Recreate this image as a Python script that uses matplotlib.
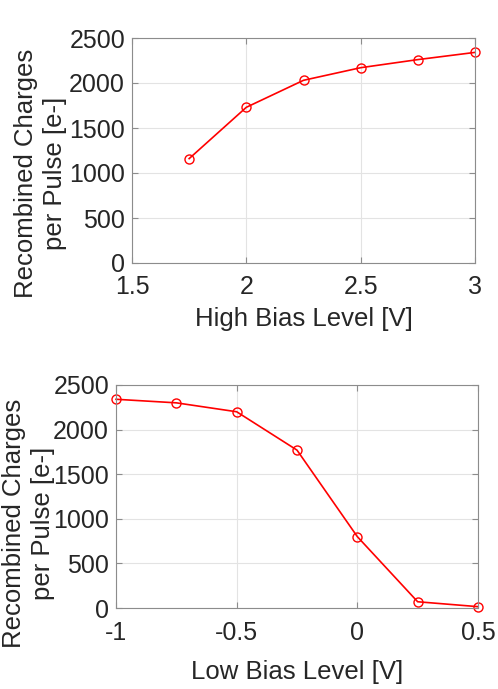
import matplotlib.pyplot as plt

plt.rcParams['font.family'] = ['Liberation Sans', 'DejaVu Sans']

# data
high_bias = [1.75, 2.0, 2.25, 2.5, 2.75, 3.0]
high_charges = [1160, 1730, 2030, 2170, 2260, 2340]

low_bias = [-1.0, -0.75, -0.5, -0.25, 0.0, 0.25, 0.5]
low_charges = [2340, 2300, 2200, 1770, 800, 70, 15]

ylab = 'Recombined Charges\nper Pulse [e-]'
W, H = 498, 689
txt = '#262626'

fig = plt.figure(figsize=(W / 100, H / 100), dpi=100)


def add_ax(l, t, r, b):
    return fig.add_axes([l / W, 1 - b / H, (r - l) / W, (b - t) / H])


def style(ax):
    ax.grid(True, color='#e3e3e3', linewidth=0.8)
    ax.set_axisbelow(True)
    for s in ax.spines.values():
        s.set_color('#8c8c8c')
        s.set_linewidth(0.8)
    ax.tick_params(direction='in', length=4, width=0.8, color='#8c8c8c',
                   labelcolor=txt, labelsize=18, top=True, right=True)
    ax.tick_params(axis='y', pad=5)
    ax.tick_params(axis='x', pad=9)
    ax.set_yticks([0, 500, 1000, 1500, 2000, 2500])
    ax.set_ylim(0, 2500)


ax1 = add_ax(132, 38, 475, 263)
ax1.plot(high_bias, high_charges, color='red', marker='o', markersize=6.5,
         markerfacecolor='none', linewidth=1.2, clip_on=False)
style(ax1)
ax1.set_xlim(1.5, 3)
ax1.set_xticks([1.5, 2, 2.5, 3])
ax1.set_xticklabels(['1.5', '2', '2.5', '3'])
ax1.set_xlabel('High Bias Level [V]', fontsize=18.5, color=txt, va='top')
ax1.xaxis.set_label_coords(0.5, -0.195)
ax1.set_ylabel(ylab, fontsize=18.5, color=txt, linespacing=1.25)
ax1.yaxis.set_label_coords(-0.19, 0.40)

ax2 = add_ax(116, 385, 478, 608)
ax2.plot(low_bias, low_charges, color='red', marker='o', markersize=6.5,
         markerfacecolor='none', linewidth=1.2, clip_on=False)
style(ax2)
ax2.set_xlim(-1, 0.5)
ax2.set_xticks([-1, -0.5, 0, 0.5])
ax2.set_xticklabels(['-1', '-0.5', '0', '0.5'])
ax2.set_xlabel('Low Bias Level [V]', fontsize=18.5, color=txt, va='top')
ax2.xaxis.set_label_coords(0.5, -0.235)
ax2.set_ylabel(ylab, fontsize=18.5, color=txt, linespacing=1.25)
ax2.yaxis.set_label_coords(-0.168, 0.38)

fig.savefig('out.png', dpi=100)
